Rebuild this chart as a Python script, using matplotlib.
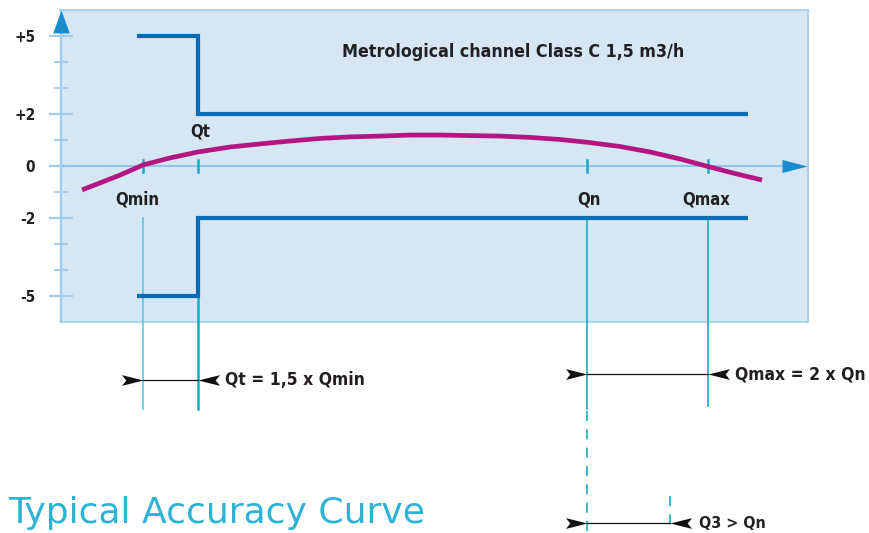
import numpy as np
import matplotlib
matplotlib.use("Agg")
import matplotlib.pyplot as plt
from matplotlib import font_manager

# ---------------------------------------------------------------------------
# data (x in diagram flow positions, y in accuracy %)
flow_names = ['Qmin', 'Qt', 'Qn', 'Qmax']
flow_pos = [143, 198, 587, 708]
q3_pos = 670

upper_x = [137, 198, 748]
upper_y = [5, 2, 2]
lower_x = [137, 198, 748]
lower_y = [-5, -2, -2]

curve_x = [82, 100, 120, 143, 170, 198, 230, 260, 290, 320, 350, 380, 410, 440,
           470, 500, 530, 560, 590, 620, 650, 680, 708, 735, 762]
curve_y = [-0.92, -0.65, -0.35, 0.04, 0.31, 0.54, 0.73, 0.85, 0.96, 1.06, 1.12,
           1.15, 1.19, 1.19, 1.17, 1.15, 1.10, 1.02, 0.90, 0.75, 0.54, 0.27,
           -0.02, -0.29, -0.54]

ytick_vals = [-5, -4, -3, -2, -1, 0, 1, 2, 3, 4, 5]
ylabel_vals = [5, 2, 0, -2, -5]
ylabel_txt = ['+5', '+2', '0', '-2', '-5']

title = 'Metrological channel Class C 1,5 m3/h'
caption = 'Typical Accuracy Curve'

# ---------------------------------------------------------------------------
fonts = font_manager.fontManager.ttflist
names = {f.name for f in fonts}
cond = [f for f in fonts if f.name == 'DejaVu Sans' and 'ondensed' in str(f.stretch)]
if 'Liberation Sans Narrow' in names:
    fam, stretch = 'Liberation Sans Narrow', 'normal'
elif cond:
    fam, stretch = 'DejaVu Sans', 'condensed'
else:
    fam, stretch = 'Roboto', 'normal'
plt.rcParams['font.family'] = [fam, 'DejaVu Sans']
plt.rcParams['font.stretch'] = stretch

dark = '#231f20'
panel = '#d5e6f5'
edge = '#a3cbeb'
axblue = '#1a8ccd'
teal = '#19aac6'
teal_light = '#5cc9de'
stepc = '#0a6cb5'
magenta = '#b3177f'

W, H = 869, 533
fig = plt.figure(figsize=(W / 100, H / 100), dpi=100)
x0, x1, ytop, ybot = 60, 808, 10, 322
ax = fig.add_axes([x0 / W, (H - ybot) / H, (x1 - x0) / W, (ybot - ytop) / H])
ax.set_xlim(x0, x1)
ax.set_ylim(-6, 6)
ax.set_facecolor(panel)
for s in ax.spines.values():
    s.set_color(edge)
    s.set_linewidth(1.2)
ax.spines['left'].set_linewidth(1.6)
ax.spines['left'].set_position(('data', 61))

# y ticks
ax.set_yticks(ylabel_vals)
ax.set_yticklabels(ylabel_txt, fontsize=11, fontweight='bold', color=dark)
ax.set_yticks([v for v in ytick_vals if v not in ylabel_vals], minor=True)
ax.tick_params(axis='y', which='major', direction='inout', length=17, width=1.6,
               color=edge, pad=10)
ax.tick_params(axis='y', which='minor', direction='inout', length=10, width=1.4,
               color=edge)
ax.set_xticks([])

# axes arrows
ax.plot([61, 785], [0, 0], color='#92c3e8', lw=1.4, zorder=2)
tri_right = [(0, 0), (-1, 0.26), (-1, -0.26)]
tri_up = [(0, 0), (0.36, -1), (-0.36, -1)]
ax.plot([807], [0], marker=tri_right, ms=36, color=axblue, mew=0, clip_on=False, zorder=3)
ax.plot([61], [6], marker=tri_up, ms=33, color=axblue, mew=0, clip_on=False, zorder=3)

# flow ticks on x axis
for xp in flow_pos:
    ax.plot([xp, xp], [-0.24, 0.24], color=teal, lw=1.8, zorder=4)

# limits
ax.plot(upper_x, upper_y, drawstyle='steps-post', color=stepc, lw=3.0,
        solid_joinstyle='miter', solid_capstyle='butt', zorder=5)
ax.plot(lower_x, lower_y, drawstyle='steps-post', color=stepc, lw=3.0,
        solid_joinstyle='miter', solid_capstyle='butt', zorder=5)

# accuracy curve
ax.plot(curve_x, curve_y, color=magenta, lw=3.4, solid_capstyle='butt',
        solid_joinstyle='round', zorder=6)

# labels
lab = dict(fontsize=12, fontweight='bold', color=dark)
ax.text(200, 1.31, 'Qt', ha='center', va='center', **lab)
ax.text(137, -1.27, 'Qmin', ha='center', va='center', **lab)
ax.text(589, -1.27, 'Qn', ha='center', va='center', **lab)
ax.text(706, -1.27, 'Qmax', ha='center', va='center', **lab)
ax.text(342, 4.4, title, ha='left', va='center', fontsize=12.8,
        fontweight='bold', color=dark)

# vertical guide lines below the panel
y_px = lambda p: (167 - p) / 26.0
ax.plot([flow_pos[0]] * 2, [-2, y_px(410)], color=teal_light, lw=1.2, clip_on=False, zorder=4)
ax.plot([flow_pos[1]] * 2, [-2, y_px(410)], color=teal, lw=1.8, clip_on=False, zorder=4)
ax.plot([flow_pos[2]] * 2, [-2, y_px(410)], color=teal, lw=1.2, clip_on=False, zorder=4)
ax.plot([flow_pos[2]] * 2, [y_px(412), y_px(533)], color=teal, lw=1.2, ls=(0, (6, 5)),
        clip_on=False, zorder=4)
ax.plot([flow_pos[3]] * 2, [-2, y_px(407)], color=teal, lw=1.2, clip_on=False, zorder=4)
ax.plot([q3_pos] * 2, [y_px(497), y_px(533)], color=teal, lw=1.2, ls=(0, (6, 5)),
        clip_on=False, zorder=4)

# dimension arrows
head_r = [(0, 0), (-1, 0.25), (-0.8, 0), (-1, -0.25)]
head_l = [(0, 0), (1, 0.25), (0.8, 0), (1, -0.25)]


def dimension(xa, xb, yp, text, tx, fs=12.5):
    yv = y_px(yp)
    ax.plot([xa, xb], [yv, yv], color='#111111', lw=0.9, clip_on=False, zorder=5)
    ax.plot([xa], [yv], marker=head_r, ms=31, color='#111111', mew=0, clip_on=False, zorder=5)
    ax.plot([xb], [yv], marker=head_l, ms=31, color='#111111', mew=0, clip_on=False, zorder=5)
    ax.text(tx, yv, text, ha='left', va='center', fontsize=fs, fontweight='bold',
            color=dark, clip_on=False)


dimension(flow_pos[0], flow_pos[1], 381, 'Qt = 1,5 x Qmin', 225)
dimension(flow_pos[2], flow_pos[3], 375, 'Qmax = 2 x Qn', 735)
dimension(flow_pos[2], q3_pos, 524, 'Q3 > Qn', 699, fs=11.5)

fig.text(8 / W, 1 - 513 / H, caption, ha='left', va='center', fontsize=26,
         family=['DejaVu Sans'], fontstretch='normal', color='#2db4d4')

fig.savefig('out.png', dpi=100)
